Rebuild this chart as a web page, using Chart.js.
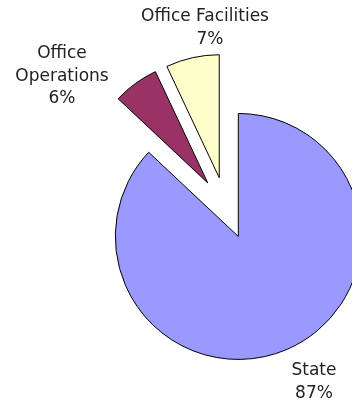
<!DOCTYPE html>
<html>
<head>
<meta charset="utf-8">
<script src="https://cdn.jsdelivr.net/npm/chart.js@4/dist/chart.umd.min.js"></script>
<style>
    html, body { margin: 0; padding: 0; background: #fff; overflow: hidden; }
    #wrap { position: relative; width: 452px; height: 402px; }
</style>
</head>
<body>
<div id="wrap"><canvas id="pieChart" width="452" height="402"></canvas></div>
<script>
// Chart data
const categories = ['State', 'Office Operations', 'Office Facilities'];
const shares = [87, 6, 7];
const sliceColors = ['#9999FF', '#993366', '#FFFFCC'];

// Label text lines for each slice (category split over lines, percent added below)
const labelLines = [
    ['State'],
    ['Office', 'Operations'],
    ['Office Facilities']
];

// How far every slice is pulled out from the centre (px)
const EXPLODE = 31;

/**
 * Draws each slice pulled out along its mid angle (Chart.js offset also grows the radius)
 */
const explodedSlices = {
    id: 'explodedSlices',
    beforeDatasetDraw(chart, args) {
        const ctx = chart.ctx;
        args.meta.data.forEach(arc => {
            const mid = (arc.startAngle + arc.endAngle) / 2;
            ctx.save();
            ctx.translate(Math.cos(mid) * EXPLODE, Math.sin(mid) * EXPLODE);
            arc.draw(ctx);
            ctx.restore();
        });
        return false;
    }
};

/**
 * Draws the outside labels, Excel style
 */
const outsideLabels = {
    id: 'outsideLabels',
    afterDatasetsDraw(chart, args, opts) {
        const ctx = chart.ctx;
        const total = shares.reduce((a, b) => a + b, 0);
        ctx.save();
        ctx.font = '17px "DejaVu Sans", sans-serif';
        ctx.fillStyle = '#222';
        ctx.textAlign = 'center';
        ctx.textBaseline = 'middle';
        opts.spots.forEach((spot, i) => {
            const lines = labelLines[i].concat([Math.round(shares[i] / total * 100) + '%']);
            lines.forEach((line, j) => {
                ctx.fillText(line, spot.x + (spot.dx ? spot.dx[j] || 0 : 0), spot.y + j * opts.lineHeight);
            });
        });
        ctx.restore();
    }
};

const ctx = document.getElementById('pieChart').getContext('2d');
new Chart(ctx, {
    type: 'pie',
    data: {
        labels: categories,
        datasets: [{
            data: shares,
            backgroundColor: sliceColors,
            borderColor: '#000',
            borderWidth: 1
        }]
    },
    options: {
        responsive: false,
        animation: false,
        devicePixelRatio: 1,
        radius: 123,
        layout: {
            padding: { top: 14, bottom: 0, left: 0, right: 0 }
        },
        plugins: {
            legend: { display: false },
            tooltip: { enabled: false },
            outsideLabels: {
                lineHeight: 22.5,
                spots: [
                    { x: 314, y: 371 },
                    { x: 62, y: 54 },
                    { x: 205, y: 17, dx: [0, 5] }
                ]
            }
        }
    },
    plugins: [explodedSlices, outsideLabels]
});
</script>
</body>
</html>
